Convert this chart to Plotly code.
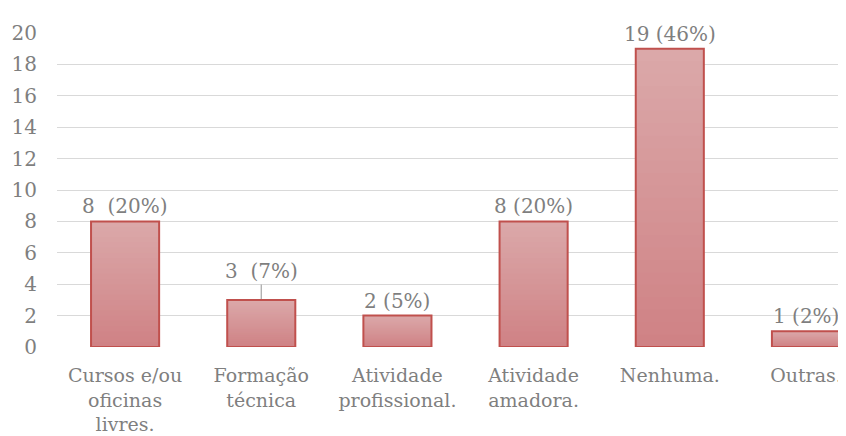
import plotly.graph_objects as go

categories = ["Cursos e/ou<br>oficinas<br>livres.", "Formação<br>técnica", "Atividade<br>profissional.",
              "Atividade<br>amadora.", "Nenhuma.", "Outras."]
values = [8, 3, 2, 8, 19, 1]
labels = ["8  (20%)", "3  (7%)", "2 (5%)", "8 (20%)", "19 (46%)", "1 (2%)"]
y_ticks = [0, 2, 4, 6, 8, 10, 12, 14, 16, 18, 20]

FONT = "DejaVu Serif"
FS = 20
TXT = "#7f7f7f"
top_rgb = (219, 168, 169)
bot_rgb = (207, 130, 133)
N = 24

x_idx = list(range(len(categories)))
fig = go.Figure()
for k in range(N):
    f = k / (N - 1)
    c = tuple(round(top_rgb[i] + (bot_rgb[i] - top_rgb[i]) * f) for i in range(3))
    frac = 1 - k / N
    fig.add_trace(go.Bar(x=x_idx, y=[v * frac for v in values], width=0.5,
                         marker=dict(color="rgb(%d,%d,%d)" % c, line=dict(width=0)),
                         hoverinfo="skip", showlegend=False))
fig.add_trace(go.Bar(x=x_idx, y=values, width=0.5,
                     marker=dict(color="rgba(0,0,0,0)", line=dict(color="#c0504d", width=2)),
                     showlegend=False))

for i, (v, t) in enumerate(zip(values, labels)):
    if i == 1:
        fig.add_annotation(x=i, y=v, text=t, showarrow=True, arrowhead=0, arrowwidth=1.2,
                           arrowcolor="#a6a6a6", ax=0, ay=-29, standoff=1,
                           font=dict(family=FONT, size=FS, color=TXT))
    else:
        fig.add_annotation(x=i, y=v, text=t, showarrow=False, yanchor="bottom", yshift=1,
                           font=dict(family=FONT, size=FS, color=TXT))

# the page body has an 8px margin, so the figure is sized to end at the window edge
fig.update_layout(
    width=838, height=428, barmode="overlay",
    margin=dict(l=49, r=0, t=25, b=89),
    plot_bgcolor="white", paper_bgcolor="white",
    font=dict(family=FONT, size=FS, color=TXT),
    xaxis=dict(range=[-0.5, 5.294], tickmode="array", tickvals=x_idx, ticktext=categories,
               showgrid=False, zeroline=False, showline=False, ticks="", automargin=False,
               ticklabelstandoff=15,
               tickfont=dict(family=FONT, size=19, color=TXT)),
    yaxis=dict(range=[0, 20], tickvals=y_ticks, showgrid=True, gridcolor="#d9d9d9", gridwidth=1.2,
               zeroline=False, showline=False, ticks="", ticklabelstandoff=19, automargin=False,
               tickfont=dict(family=FONT, size=FS, color=TXT)),
)
fig.write_html("out.html")
